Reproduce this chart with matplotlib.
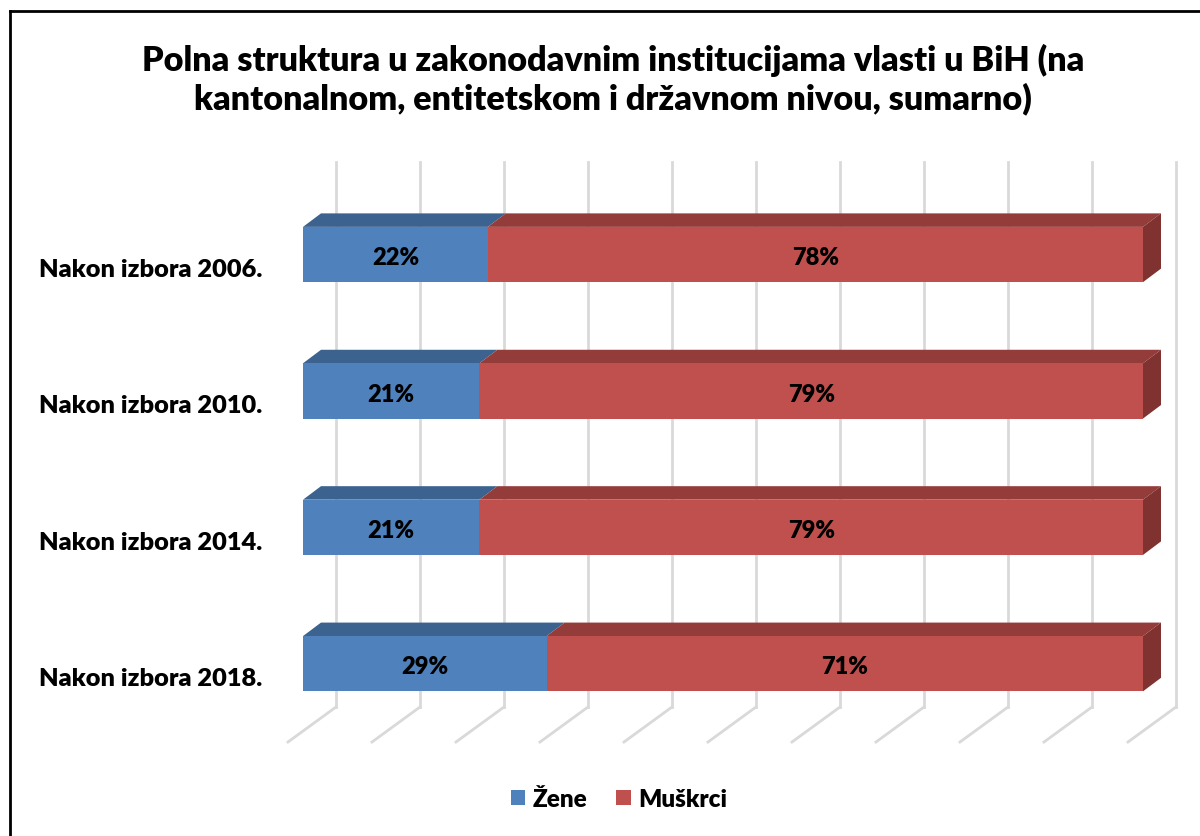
import matplotlib
matplotlib.use("Agg")
import matplotlib.pyplot as plt
from matplotlib.patches import Polygon, Patch
from matplotlib.lines import Line2D

# podaci
kategorije = ["Nakon izbora 2006.", "Nakon izbora 2010.", "Nakon izbora 2014.", "Nakon izbora 2018."]
zene = [22, 21, 21, 29]
muskarci = [78, 79, 79, 71]
serije = ["Žene", "Muškrci"]
naslov = "Polna struktura u zakonodavnim institucijama vlasti u BiH (na\nkantonalnom, entitetskom i državnom nivou, sumarno)"
grid_ticks = list(range(0, 101, 10))

plt.rcParams['font.family'] = ['Lato', 'DejaVu Sans']

W, H = 1200, 837
fig = plt.figure(figsize=(W / 100, H / 100), dpi=100)
ax = fig.add_axes([0, 0, 1, 1])

# skala: 8.4 px po %, 136.4 px po kategoriji
px_x, px_y = 8.4, 136.4
x0_px, y0_px = 303, 255.5
ax.set_xlim(-x0_px / px_x, (W - x0_px) / px_x)
ax.set_ylim((H - y0_px) / px_y, -y0_px / px_y)
ax.axis('off')

# dubina (3D efekt)
dx, dy = 18 / px_x, -13.5 / px_y          # dubina stupca
bx, by = 33 / px_x, -24 / px_y            # zadnji zid u odnosu na prednju stranu stupca
fx, fy = -15 / px_x, 11 / px_y            # prednji rub poda
pod_y = (708 - y0_px) / px_y              # dno zadnjeg zida
vrh_y = (163 - y0_px) / px_y
bh = 0.405

grid_c = '#D9D9D9'
for t in grid_ticks:
    ax.add_line(Line2D([t + bx, t + bx], [vrh_y, pod_y], color=grid_c, lw=2, zorder=1))
    ax.add_line(Line2D([t + bx, t + bx - (bx - fx)], [pod_y, pod_y + (fy - by)], color=grid_c, lw=2, zorder=1))

boje = [('#4F81BD', '#3C638F', '#385D8A'), ('#C0504D', '#943C3A', '#7F3230')]

for i, (z, m) in enumerate(zip(zene, muskarci)):
    top = i - bh / 2
    bot = i + bh / 2
    lijevo = 0
    for j, v in enumerate([z, m]):
        front, gornja, bocna = boje[j]
        desno = lijevo + v
        ax.add_patch(Polygon([(lijevo, top), (lijevo + dx, top + dy), (desno + dx, top + dy), (desno, top)],
                             closed=True, facecolor=gornja, edgecolor='none', zorder=3))
        ax.add_patch(Polygon([(lijevo, top), (desno, top), (desno, bot), (lijevo, bot)],
                             closed=True, facecolor=front, edgecolor='none', zorder=4))
        if j == 1:
            ax.add_patch(Polygon([(desno, top), (desno + dx, top + dy), (desno + dx, bot + dy), (desno, bot)],
                                 closed=True, facecolor=bocna, edgecolor='none', zorder=3))
        ax.text((lijevo + desno) / 2, i + 0.02, f"{v}%", ha='center', va='center',
                fontsize=17, fontweight='heavy', color='black', zorder=5)
        lijevo = desno
    ax.text(-41 / px_x, i + 0.106, kategorije[i], ha='right', va='center',
            fontsize=18.3, fontweight='heavy', color='black')

fig.text(613 / W, 1 - 80 / H, naslov, ha='center', va='center', fontsize=24.6, fontweight='heavy',
         linespacing=1.2)

handles = [Patch(facecolor=boje[0][0]), Patch(facecolor=boje[1][0])]
fig.legend(handles, serije, loc='center', bbox_to_anchor=(619 / W, 1 - 800 / H), ncol=2, frameon=False,
           prop={'weight': 'heavy', 'size': 17.5}, handlelength=0.6, handleheight=0.6,
           handletextpad=0.3, columnspacing=1.2)

# okvir
fig.add_artist(Line2D([9.5 / W, 9.5 / W], [0, 1 - 11.5 / H], color='black', lw=2, transform=fig.transFigure))
fig.add_artist(Line2D([9.5 / W, 1], [1 - 11.5 / H, 1 - 11.5 / H], color='black', lw=2, transform=fig.transFigure))

fig.savefig("out.png", dpi=100)
